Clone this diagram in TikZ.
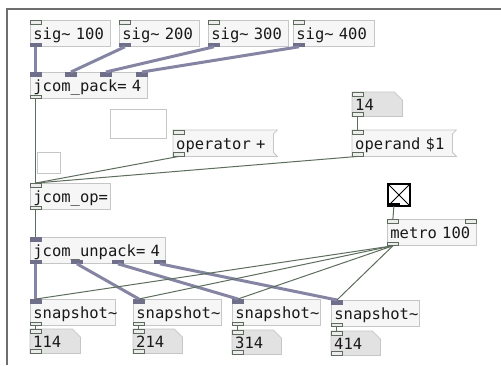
\documentclass[tikz,border=0pt]{standalone}
\usepackage{fontspec}
\setmonofont{DejaVu Sans Mono}
\pgfdeclarelayer{background}
\pgfsetlayers{background,main}
\definecolor{boxfill}{HTML}{F6F6F6}
\definecolor{boxline}{HTML}{C6C6C6}
\definecolor{numfill}{HTML}{E2E2E2}
\definecolor{portline}{HTML}{5D6B5D}
\definecolor{portfill}{HTML}{ECECEC}
\definecolor{sigport}{HTML}{6F6F8A}
\definecolor{sigwirec}{HTML}{8585A3}
\definecolor{ctlwirec}{HTML}{5E6E5E}
\definecolor{framec}{HTML}{6E6E6E}
\tikzset{
  x=1pt, y=-1pt,
  pdtext/.style={font=\fontsize{15.5}{17}\selectfont\ttfamily, text=black!90,
    inner xsep=3pt, inner ysep=0pt, text height=15pt, text depth=2pt,
    align=left, anchor=north west},
  obj/.style={pdtext, draw=boxline, fill=boxfill, line width=0.8pt,
    minimum height=26pt, text width=#1},
  msg/.style={pdtext, minimum height=26pt, text width=#1},
  numbox/.style={pdtext, minimum height=24pt, text height=14pt, text width=#1},
  emptybox/.style={draw=boxline, fill=white, line width=0.8pt, anchor=north west, inner sep=0pt},
  toggle/.style={draw=black, line width=2pt, fill=white, anchor=north west,
    minimum width=22pt, minimum height=22pt, inner sep=0pt,
    path picture={\draw[line width=0.8pt] (path picture bounding box.north west) -- (path picture bounding box.south east)
      (path picture bounding box.north east) -- (path picture bounding box.south west);}},
  inlet/.style={draw=portline, fill=portfill, line width=0.8pt, minimum width=11pt,
    minimum height=3.5pt, inner sep=0pt, anchor=north west},
  outlet/.style={inlet, anchor=south west},
  siginlet/.style={draw=sigport, fill=sigport, line width=0.8pt, minimum width=11pt,
    minimum height=3.5pt, inner sep=0pt, anchor=north west},
  sigoutlet/.style={siginlet, anchor=south west},
  sigwire/.style={draw=sigwirec, line width=3pt},
  ctlwire/.style={draw=ctlwirec, line width=1pt},
  msgshape/.style={draw=boxline, fill=boxfill, line width=0.8pt},
  numshape/.style={draw=boxline, fill=numfill, line width=0.8pt},
}
\begin{document}
\begin{tikzpicture}
\useasboundingbox (0,0) rectangle (501,365);
\begin{pgfonlayer}{background}
  \fill[white] (0,0) rectangle (501,365);
\end{pgfonlayer}
% window edge
\draw[framec, line width=2pt] (7,365) -- (7,8.5) -- (501,8.5);

% signal sources
\node[obj=74pt] (s1) at (30,20) {sig\textasciitilde{} 100};
\node[obj=74pt] (s2) at (119,20) {sig\textasciitilde{} 200};
\node[obj=74pt] (s3) at (208,20) {sig\textasciitilde{} 300};
\node[obj=75pt] (s4) at (293,20) {sig\textasciitilde{} 400};
\node[obj=111pt] (pk) at (30,72) {jcom\_pack= 4};

% empty comment boxes
\node[emptybox, minimum width=56pt, minimum height=29pt] (e1) at (110,109) {};
\node[emptybox, minimum width=23pt, minimum height=21pt] (e2) at (37,152) {};

% messages and number box
\node[msg=94pt] (opr) at (173,130) {operator +};
\node[numbox=44pt] (n14) at (352,92) {14};
\node[msg=94pt] (opd) at (352,130) {operand \$1};

\node[obj=74pt] (op) at (30,183) {jcom\_op=};
\node[toggle] (tg) at (387,183) {};
\node[obj=83pt] (mt) at (387,219) {metro 100};
\node[obj=129pt] (up) at (30,237) {jcom\_unpack= 4};

% snapshots and their number boxes
\node[obj=79pt] (sn1) at (30,299) {snapshot\textasciitilde};
\node[obj=82pt] (sn2) at (133,299) {snapshot\textasciitilde};
\node[obj=82pt] (sn3) at (232,299) {snapshot\textasciitilde};
\node[obj=82pt] (sn4) at (331,300) {snapshot\textasciitilde};
\node[numbox=44pt] (nb1) at (30,329) {114};
\node[numbox=43pt] (nb2) at (133,329) {214};
\node[numbox=43pt] (nb3) at (232,330) {314};
\node[numbox=43pt] (nb4) at (331,331) {414};

% box outlines behind message and number boxes
\begin{pgfonlayer}{background}
  \foreach \m in {opr,opd}{
    \draw[msgshape] (\m.north west) -- ([xshift=4pt]\m.north east) -- ([yshift=-4pt]\m.north east)
      -- ([yshift=4pt]\m.south east) -- ([xshift=4pt]\m.south east) -- (\m.south west) -- cycle;
  }
  \foreach \n in {n14,nb1,nb2,nb3,nb4}{
    \draw[numshape] (\n.north west) -- ([xshift=-8pt]\n.north east) -- ([yshift=-8pt]\n.north east)
      -- (\n.south east) -- (\n.south west) -- cycle;
  }
\end{pgfonlayer}

% ports
\foreach \b in {s1,s2,s3,s4}{
  \node[inlet] (\b i) at (\b.north west) {};
  \node[sigoutlet] (\b o) at (\b.south west) {};
}
\node[siginlet] (pk1) at (pk.north west) {};
\node[siginlet] (pk2) at ([xshift=35pt]pk.north west) {};
\node[siginlet] (pk3) at ([xshift=70pt]pk.north west) {};
\node[siginlet, anchor=north east] (pk4) at (pk.north east) {};
\node[outlet] (pko) at (pk.south west) {};

\node[inlet] (opri) at (opr.north west) {};
\node[outlet] (opro) at (opr.south west) {};
\node[inlet] (n14i) at (n14.north west) {};
\node[outlet] (n14o) at (n14.south west) {};
\node[inlet] (opdi) at (opd.north west) {};
\node[outlet] (opdo) at (opd.south west) {};

\node[inlet] (opi) at (op.north west) {};
\node[outlet] (opo) at (op.south west) {};

\node[inlet, draw=black, fill=black, minimum height=2.5pt, anchor=south west] (tgo) at ([xshift=1pt,yshift=1pt]tg.south west) {};
\node[inlet] (mti) at (mt.north west) {};
\node[inlet, anchor=north east] (mti2) at (mt.north east) {};
\node[outlet] (mto) at (mt.south west) {};

\node[siginlet] (upi) at (up.north west) {};
\node[sigoutlet] (up1) at (up.south west) {};
\node[sigoutlet] (up2) at ([xshift=41pt]up.south west) {};
\node[sigoutlet] (up3) at ([xshift=82pt]up.south west) {};
\node[sigoutlet, anchor=south east] (up4) at (up.south east) {};

\foreach \k in {1,2,3,4}{
  \node[siginlet] (sn\k i) at (sn\k.north west) {};
  \node[outlet] (sn\k o) at (sn\k.south west) {};
  \node[inlet] (nb\k i) at (nb\k.north west) {};
  \node[outlet] (nb\k o) at (nb\k.south west) {};
}

% signal connections
\draw[sigwire] (s1o.south) -- (pk1.north);
\draw[sigwire] (s2o.south) -- (pk2.north);
\draw[sigwire] (s3o.south) -- (pk3.north);
\draw[sigwire] (s4o.south) -- (pk4.north);
\draw[sigwire] (up1.south) -- (sn1i.north);
\draw[sigwire] (up2.south) -- (sn2i.north);
\draw[sigwire] (up3.south) -- (sn3i.north);
\draw[sigwire] (up4.south) -- (sn4i.north);

% control connections
\draw[ctlwire] (pko.south) -- (opi.north);
\draw[ctlwire] (opro.south) -- (opi.north);
\draw[ctlwire] (opdo.south) -- (opi.north);
\draw[ctlwire] (n14o.south) -- (opdi.north);
\draw[ctlwire] (opo.south) -- (upi.north);
\draw[ctlwire] (tgo.south) -- (mti.north);
\foreach \k in {1,2,3,4}{
  \draw[ctlwire] (mto.south) -- (sn\k i.north);
  \draw[ctlwire] (sn\k o.south) -- (nb\k i.north);
}
\end{tikzpicture}
\end{document}
